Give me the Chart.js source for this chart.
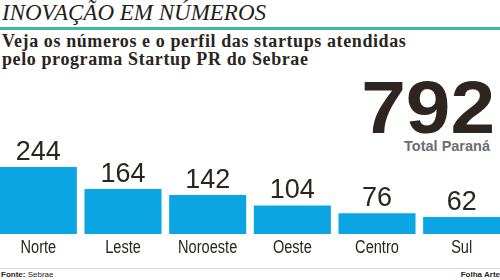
<!DOCTYPE html>
<html>
<head>
<meta charset="utf-8">
<script src="https://cdn.jsdelivr.net/npm/chart.js@4"></script>
<style>
  body { margin: 0; width: 500px; height: 280px; background: #fff; position: relative; overflow: hidden; font-family: "Liberation Sans", Arial, sans-serif; color: #2b2420; }
  #title { position: absolute; left: 2px; top: 0px; font: italic 23px "Liberation Serif", serif; white-space: nowrap; color: #231e1b; }
  #rule { position: absolute; left: 0; top: 27px; width: 500px; height: 3px; background: #3fb6a7; }
  #subtitle { position: absolute; left: 2px; top: 32px; font: bold 18px/18px "Liberation Serif", serif; letter-spacing: 0.6px; white-space: nowrap; }
  #total { position: absolute; right: 5px; top: 70px; font: bold 75px/75px "Liberation Sans", Arial, sans-serif; color: #2e2520; transform: scaleX(1.07); transform-origin: right center; }
  #totalLabel { position: absolute; right: 10px; top: 138px; font: bold 14.5px "Liberation Sans", Arial, sans-serif; color: #6e6e6e; }
  #chartBox { position: absolute; left: -4px; top: 130px; width: 508px; height: 128px; }
  #footRule { position: absolute; left: 0; top: 268px; width: 500px; height: 1px; background: #d8d8d8; }
  #source { position: absolute; left: 1px; top: 270px; font: 8px "Liberation Sans", Arial, sans-serif; }
  #credit { position: absolute; right: 0; top: 270px; font: bold 8px "Liberation Sans", Arial, sans-serif; }
</style>
</head>
<body>
<div id="title">INOVAÇÃO EM NÚMEROS</div>
<div id="rule"></div>
<div id="subtitle">Veja os números e o perfil das startups atendidas<br>pelo programa Startup PR do Sebrae</div>
<div id="total">792</div>
<div id="totalLabel">Total Paraná</div>
<div id="chartBox"><canvas id="chart"></canvas></div>
<div id="footRule"></div>
<div id="source"><b>Fonte:</b> Sebrae</div>
<div id="credit">Folha Arte</div>
<script>
const regions = ['Norte', 'Leste', 'Noroeste', 'Oeste', 'Centro', 'Sul'];
const startups = [244, 164, 142, 104, 76, 62];

// Valores acima das barras e nomes das regiões (fonte condensada) abaixo
const barLabels = {
    id: 'barLabels',
    afterDatasetsDraw(chart) {
        const ctx = chart.ctx;
        const meta = chart.getDatasetMeta(0);
        const xScale = chart.scales.x;
        const bottom = chart.chartArea.bottom;
        ctx.save();
        ctx.fillStyle = '#2b2420';
        ctx.textAlign = 'center';
        ctx.font = '27px "Liberation Sans", Arial, sans-serif';
        ctx.textBaseline = 'alphabetic';
        meta.data.forEach((bar, i) => {
            ctx.fillText(String(startups[i]), bar.x, bar.y - 7);
        });
        ctx.font = '18px "Liberation Sans", Arial, sans-serif';
        regions.forEach((name, i) => {
            const x = xScale.getPixelForValue(i);
            ctx.save();
            ctx.translate(x, bottom + 19);
            ctx.scale(0.81, 1);
            ctx.fillText(name, 0, 0);
            ctx.restore();
        });
        ctx.restore();
    }
};

new Chart(document.getElementById('chart'), {
    type: 'bar',
    data: {
        labels: regions,
        datasets: [{ data: startups, backgroundColor: '#0aa5e2', barPercentage: 0.91, categoryPercentage: 1 }]
    },
    options: {
        responsive: true,
        maintainAspectRatio: false,
        animation: false,
        layout: { padding: { top: 0, left: 0, right: 0, bottom: 24 } },
        plugins: { legend: { display: false }, tooltip: { enabled: false } },
        scales: {
            x: { display: false },
            y: { display: false, min: 0, max: 379 }
        }
    },
    plugins: [barLabels]
});
</script>
</body>
</html>
